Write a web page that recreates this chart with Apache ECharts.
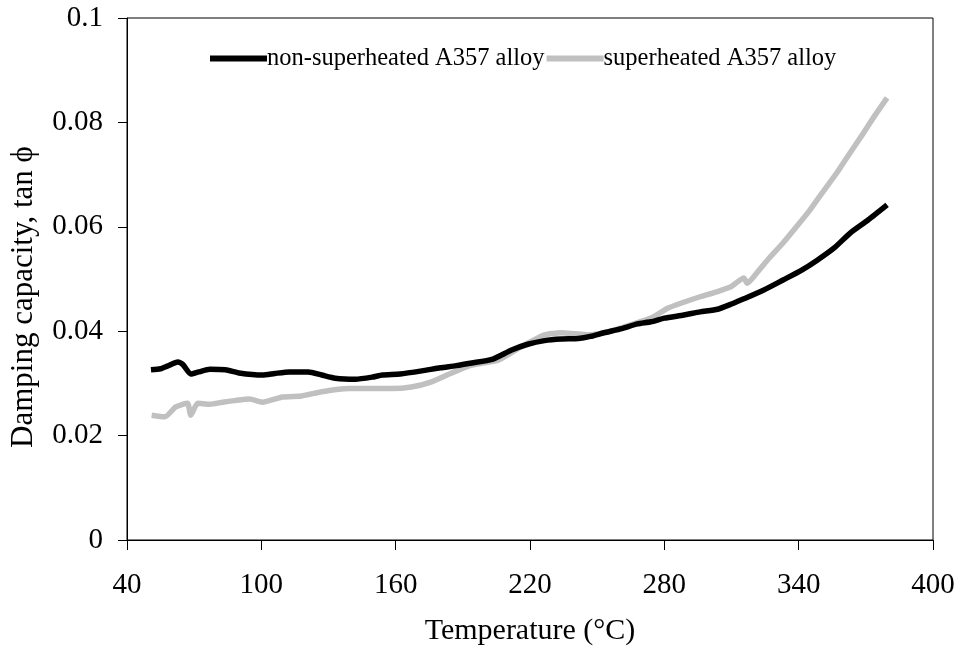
<!DOCTYPE html>
<html>
<head>
<meta charset="utf-8">
<script src="https://cdn.jsdelivr.net/npm/echarts@6/dist/echarts.min.js"></script>
<style>
  html, body { margin: 0; padding: 0; background: #fff; }
  #chart { width: 961px; height: 652px; }
</style>
</head>
<body>
<div id="chart"></div>
<script>
// temperature (°C) and tan phi
const tempNonSuper = [50.7, 55, 58, 62.7, 65, 68.5, 72, 77, 84, 90, 100.5, 106, 112.5, 121, 127, 133, 142, 149.5, 154, 162, 171.7, 180, 187, 194, 203, 211.8, 219, 226.5, 234, 241.6, 247, 253, 261, 268, 274, 280, 288.7, 296, 303.8, 310, 315.5, 324, 333, 341, 348.3, 356, 363, 371, 379.5];
const tanNonSuper = [0.0326, 0.0328, 0.0333, 0.0341, 0.0336, 0.0318, 0.0322, 0.0327, 0.0326, 0.0320, 0.0316, 0.0319, 0.0322, 0.0322, 0.0316, 0.0310, 0.0308, 0.0312, 0.0316, 0.0318, 0.0324, 0.0330, 0.0334, 0.0339, 0.0346, 0.0364, 0.0375, 0.0382, 0.0385, 0.0386, 0.0390, 0.0397, 0.0405, 0.0414, 0.0418, 0.0425, 0.0431, 0.0437, 0.0442, 0.0452, 0.0462, 0.0478, 0.0498, 0.0516, 0.0536, 0.0560, 0.0588, 0.0613, 0.0642];

const tempSuper = [51, 56.9, 61.8, 67, 68.5, 71.6, 77, 82.7, 88, 94.7, 100.5, 109.4, 118, 127, 139, 150.8, 158, 167, 176, 185, 194, 206, 216, 226.5, 234, 240, 246, 253, 262, 274, 281.5, 289, 296, 303, 309.7, 315.5, 317, 321, 326, 333, 339, 345, 351, 357, 363, 369, 374, 379.5];
const tanSuper = [0.0239, 0.0236, 0.0255, 0.0262, 0.0239, 0.0262, 0.0260, 0.0264, 0.0267, 0.0270, 0.0264, 0.0274, 0.0276, 0.0284, 0.0290, 0.0290, 0.0290, 0.0293, 0.0303, 0.0320, 0.0335, 0.0345, 0.0370, 0.0393, 0.0397, 0.0395, 0.0393, 0.0397, 0.0408, 0.0425, 0.0444, 0.0456, 0.0466, 0.0475, 0.0485, 0.0502, 0.0492, 0.0510, 0.0536, 0.0569, 0.0600, 0.0632, 0.0668, 0.0703, 0.0742, 0.0780, 0.0813, 0.0847];

const xTicks = [40, 100, 160, 220, 280, 340, 400];
const yTicks = [0, 0.02, 0.04, 0.06, 0.08, 0.1];

const seriesNames = ['non-superheated A357 alloy', 'superheated A357 alloy'];

const pairs = (xs, ys) => xs.map((x, i) => [x, ys[i]]);

const chart = echarts.init(document.getElementById('chart'));
const font = 'Liberation Serif';

chart.setOption({
  animation: false,
  backgroundColor: '#fff',
  textStyle: { fontFamily: font, color: '#000' },
  grid: {
    left: 124, right: 28, top: 18, bottom: 112,
    show: true, borderColor: '#000', borderWidth: 1
  },
  legend: {
    left: 205, top: 41,
    itemWidth: 57, itemHeight: 6, itemGap: 2,
    icon: 'rect',
    textStyle: { fontFamily: font, fontSize: 24.5, color: '#000', padding: [0, 0, 0, -5] },
    data: seriesNames
  },
  xAxis: {
    type: 'value',
    min: 40, max: 400, interval: 60,
    name: 'Temperature (°C)',
    nameLocation: 'middle', nameGap: 76,
    nameTextStyle: { fontFamily: font, fontSize: 30, color: '#000' },
    axisLine: { lineStyle: { color: '#000', width: 1 } },
    axisTick: { length: 10, lineStyle: { color: '#000' } },
    axisLabel: { fontFamily: font, fontSize: 29, color: '#000', margin: 31,
      formatter: v => xTicks.includes(v) ? String(v) : '' },
    splitLine: { show: false }
  },
  yAxis: {
    type: 'value',
    min: 0, max: 0.1, interval: 0.02,
    name: 'Damping capacity, tan ϕ',
    nameLocation: 'middle', nameGap: 88,
    nameTextStyle: { fontFamily: font, fontSize: 31, color: '#000', padding: [0, 36, 0, 0] },
    axisLine: { lineStyle: { color: '#000', width: 1 } },
    axisTick: { length: 9, lineStyle: { color: '#000' } },
    axisLabel: { fontFamily: font, fontSize: 29, color: '#000', margin: 24,
      formatter: v => {
        const t = yTicks.find(k => Math.abs(k - v) < 1e-9);
        return t === undefined ? '' : String(t);
      } },
    splitLine: { show: false }
  },
  series: [
    {
      name: seriesNames[0],
      type: 'line',
      data: pairs(tempNonSuper, tanNonSuper),
      showSymbol: false,
      smooth: 0.2,
      color: '#000',
      lineStyle: { color: '#000', width: 5.5 },
      z: 3
    },
    {
      name: seriesNames[1],
      type: 'line',
      data: pairs(tempSuper, tanSuper),
      showSymbol: false,
      smooth: 0.2,
      color: '#c0c0c0',
      lineStyle: { color: '#c0c0c0', width: 5.5 },
      z: 2
    }
  ]
});
</script>
</body>
</html>
